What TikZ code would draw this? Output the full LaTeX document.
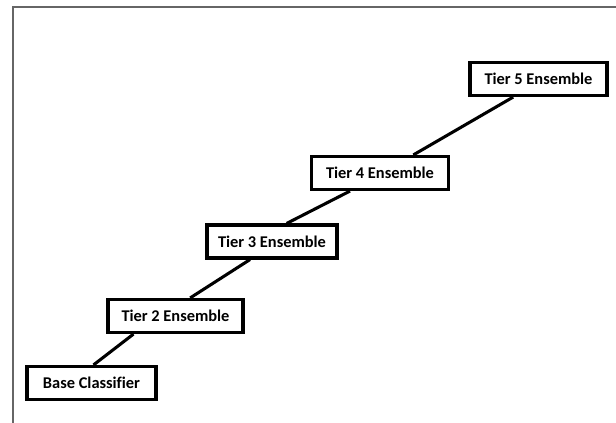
\documentclass[tikz,border=0pt]{standalone}
\usepackage{fontspec}
\setmainfont[Ligatures=NoCommon]{Carlito}
\usetikzlibrary{positioning}

\begin{document}
\begin{tikzpicture}[x=0.75pt,y=-0.75pt,
    tier/.style={draw=black,line width=2.6pt,fill=white,font=\bfseries\fontsize{12.3}{14}\selectfont,minimum height=24.5pt,inner sep=0pt},
    link/.style={black,line width=2.3pt},
    frame/.style={draw=black!60,line width=1.2pt}
]
\useasboundingbox (0,0) rectangle (616,423);

% Frame
\draw[frame] (616,7) -- (13,7) -- (13,423);

% Tiers
\node[tier,minimum width=96.5pt] (base) at (91.5,383) {Base Classifier};
\node[tier,minimum width=101pt] (tier2) at (175.5,316) {Tier 2 Ensemble};
\node[tier,minimum width=97.5pt] (tier3) at (272,241.5) {Tier 3 Ensemble};
\node[tier,minimum width=103pt] (tier4) at (380,173) {Tier 4 Ensemble};
\node[tier,minimum width=102.5pt] (tier5) at (538.5,79) {Tier 5 Ensemble};

% Links
\draw[link] ([xshift=1.5pt]base.north) -- ([xshift=-31.5pt]tier2.south);
\draw[link] ([xshift=11pt]tier2.north) -- ([xshift=-16.5pt]tier3.south);
\draw[link] ([xshift=11pt]tier3.north) -- ([xshift=-22.5pt]tier4.south);
\draw[link] ([xshift=25pt]tier4.north) -- ([xshift=-19pt]tier5.south);

\end{tikzpicture}
\end{document}
